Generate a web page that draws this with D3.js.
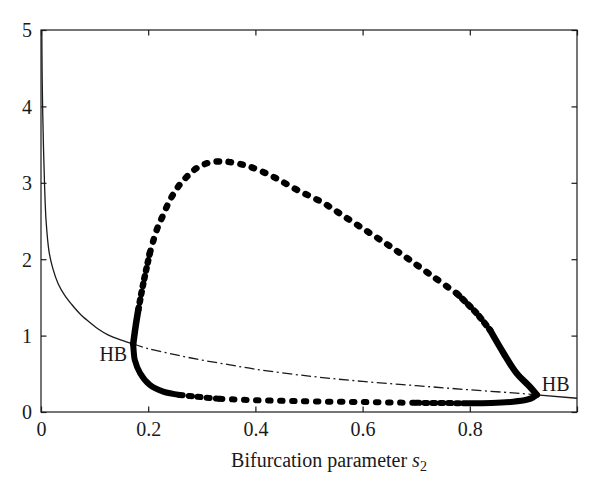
<!DOCTYPE html>
<html>
<head>
<meta charset="utf-8">
<script src="https://cdn.jsdelivr.net/npm/d3@7"></script>
<style>
  html, body { margin: 0; padding: 0; background: #fff; }
  svg { display: block; }
  text { font-family: "Liberation Serif", "DejaVu Serif", serif; fill: #1a1a1a; }
</style>
</head>
<body>
<svg id="chart" width="600" height="497"></svg>
<script>
// ---- Data ----
const xTicks = [0, 0.2, 0.4, 0.6, 0.8, 1.0];
const xTickLabels = ["0", "0.2", "0.4", "0.6", "0.8", ""];
const yTicks = [0, 1, 2, 3, 4, 5];
const yTickLabels = ["0", "1", "2", "3", "4", "5"];

// stable equilibrium, left part (s2 from 0 up to first Hopf point)
const eqStableLeft = [
  [0.0015, 5.0], [0.002, 4.5], [0.003, 4.0], [0.0045, 3.5], [0.0065, 3.0],
  [0.0095, 2.5], [0.015, 2.1], [0.022, 1.88], [0.032, 1.68], [0.044, 1.53],
  [0.057, 1.41], [0.072, 1.29], [0.088, 1.19], [0.106, 1.09], [0.125, 1.01],
  [0.15, 0.94], [0.172, 0.89]
];
// unstable equilibrium between the two Hopf points
const eqUnstable = [
  [0.172, 0.89], [0.2, 0.83], [0.25, 0.75], [0.3, 0.68], [0.35, 0.62],
  [0.4, 0.56], [0.5, 0.47], [0.6, 0.40], [0.7, 0.345], [0.8, 0.29],
  [0.9, 0.24], [0.925, 0.225]
];
// stable equilibrium, right part
const eqStableRight = [[0.925, 0.225], [1.0, 0.18]];

// periodic orbits: maximum amplitude branch
const orbitMax = [
  [0.172, 0.89], [0.1765, 1.12], [0.1815, 1.337], [0.191, 1.687], [0.203, 2.08],
  [0.216, 2.385], [0.228, 2.58], [0.241, 2.78], [0.256, 2.95], [0.272, 3.08],
  [0.290, 3.19], [0.312, 3.26], [0.340, 3.28], [0.365, 3.255], [0.390, 3.21],
  [0.433, 3.08], [0.477, 2.91], [0.527, 2.735], [0.570, 2.54], [0.614, 2.34],
  [0.651, 2.17], [0.688, 1.99], [0.732, 1.77], [0.776, 1.55], [0.813, 1.29],
  [0.838, 1.07], [0.863, 0.77], [0.887, 0.51], [0.912, 0.33], [0.925, 0.225]
];
// periodic orbits: minimum amplitude branch
const orbitMin = [
  [0.172, 0.89], [0.173, 0.79], [0.175, 0.68], [0.185, 0.507], [0.203, 0.354],
  [0.228, 0.266], [0.259, 0.223], [0.290, 0.20], [0.334, 0.172], [0.396, 0.155],
  [0.458, 0.145], [0.514, 0.137], [0.60, 0.13], [0.70, 0.12], [0.788, 0.115],
  [0.84, 0.118], [0.881, 0.135], [0.906, 0.16], [0.918, 0.19], [0.925, 0.225]
];
// index ranges of each branch and how dense the computed points are there
const maxSegments = [
  { from: 0, to: 2, dash: null }, { from: 2, to: 4, dash: "2.5,5.5" },
  { from: 4, to: 23, dash: "2.5,9.5" }, { from: 23, to: 25, dash: "3,5" },
  { from: 25, to: 29, dash: null }
];
const minSegments = [
  { from: 0, to: 6, dash: null }, { from: 6, to: 8, dash: "3,6" },
  { from: 8, to: 13, dash: "2.5,9.5" }, { from: 13, to: 14, dash: "3,5" },
  { from: 14, to: 19, dash: null }
];

const hopfLabels = [
  { x: 0.172, y: 0.89, text: "HB", side: "left" },
  { x: 0.925, y: 0.225, text: "HB", side: "right" }
];

// ---- Layout ----
const svg = d3.select("#chart");
const L = 41, R = 577, T = 30, B = 412;
const x = d3.scaleLinear().domain([0, 1]).range([L, R]);
const y = d3.scaleLinear().domain([0, 5]).range([B, T]);
const fs = 20;
const ink = "#1a1a1a";

const line = d3.line().x(d => x(d[0])).y(d => y(d[1])).curve(d3.curveCatmullRom.alpha(0.5));

// equilibrium curves
svg.append("path").attr("d", line(eqStableLeft)).attr("fill", "none")
  .attr("stroke", ink).attr("stroke-width", 1.3);
svg.append("path").attr("d", line(eqUnstable)).attr("fill", "none")
  .attr("stroke", ink).attr("stroke-width", 1.3).attr("stroke-dasharray", "10,3.5,2,3.5");
svg.append("path").attr("d", d3.line().x(d => x(d[0])).y(d => y(d[1]))(eqStableRight))
  .attr("fill", "none").attr("stroke", ink).attr("stroke-width", 1.3);

// periodic orbit branches drawn as round markers (merged where dense)
function drawBranch(data, segs, width) {
  segs.forEach(s => {
    const p = svg.append("path").attr("d", line(data.slice(s.from, s.to + 1)))
      .attr("fill", "none").attr("stroke", "#000").attr("stroke-width", width)
      .attr("stroke-linecap", "round");
    if (s.dash) p.attr("stroke-dasharray", s.dash);
  });
}
drawBranch(orbitMax, maxSegments, 6.5);
drawBranch(orbitMin, minSegments, 6);

// frame
svg.append("rect").attr("x", L).attr("y", T).attr("width", R - L).attr("height", B - T)
  .attr("fill", "none").attr("stroke", ink).attr("stroke-width", 1.2);

// axes with inward ticks
const tk = 5.5;
const xb = svg.append("g").attr("transform", `translate(0,${B})`)
  .call(d3.axisBottom(x).tickValues(xTicks).tickSizeInner(-tk).tickSizeOuter(0)
    .tickPadding(10).tickFormat((d, i) => xTickLabels[i]));
const xt = svg.append("g").attr("transform", `translate(0,${T})`)
  .call(d3.axisTop(x).tickValues(xTicks).tickSizeInner(-tk).tickSizeOuter(0).tickFormat(""));
const yl = svg.append("g").attr("transform", `translate(${L},0)`)
  .call(d3.axisLeft(y).tickValues(yTicks).tickSizeInner(-tk).tickSizeOuter(0)
    .tickPadding(9).tickFormat((d, i) => yTickLabels[i]));
const yr = svg.append("g").attr("transform", `translate(${R},0)`)
  .call(d3.axisRight(y).tickValues(yTicks).tickSizeInner(-tk).tickSizeOuter(0).tickFormat(""));
[xb, xt, yl, yr].forEach(g => {
  g.select(".domain").remove();
  g.selectAll("line").attr("stroke", ink).attr("stroke-width", 1.2);
  g.selectAll("text").attr("font-family", "Liberation Serif, DejaVu Serif, serif")
    .attr("font-size", fs).attr("fill", ink);
});
xb.selectAll("text").attr("dy", "0.71em");
yl.selectAll("text").attr("dy", "0.34em");

// Hopf labels
hopfLabels.forEach(h => {
  const t = svg.append("text").attr("font-size", fs).text(h.text);
  if (h.side === "left") {
    t.attr("x", x(h.x) - 6).attr("y", y(h.y) + 17).attr("text-anchor", "end");
  } else {
    t.attr("x", x(h.x) + 5).attr("y", y(h.y) - 4).attr("text-anchor", "start");
  }
});

// x-axis title
const title = svg.append("text").attr("x", 329).attr("y", 467)
  .attr("text-anchor", "middle").attr("font-size", fs);
title.append("tspan").text("Bifurcation parameter ");
title.append("tspan").attr("font-style", "italic").text("s");
title.append("tspan").attr("font-size", 14).attr("dy", 4).text("2");
</script>
</body>
</html>
